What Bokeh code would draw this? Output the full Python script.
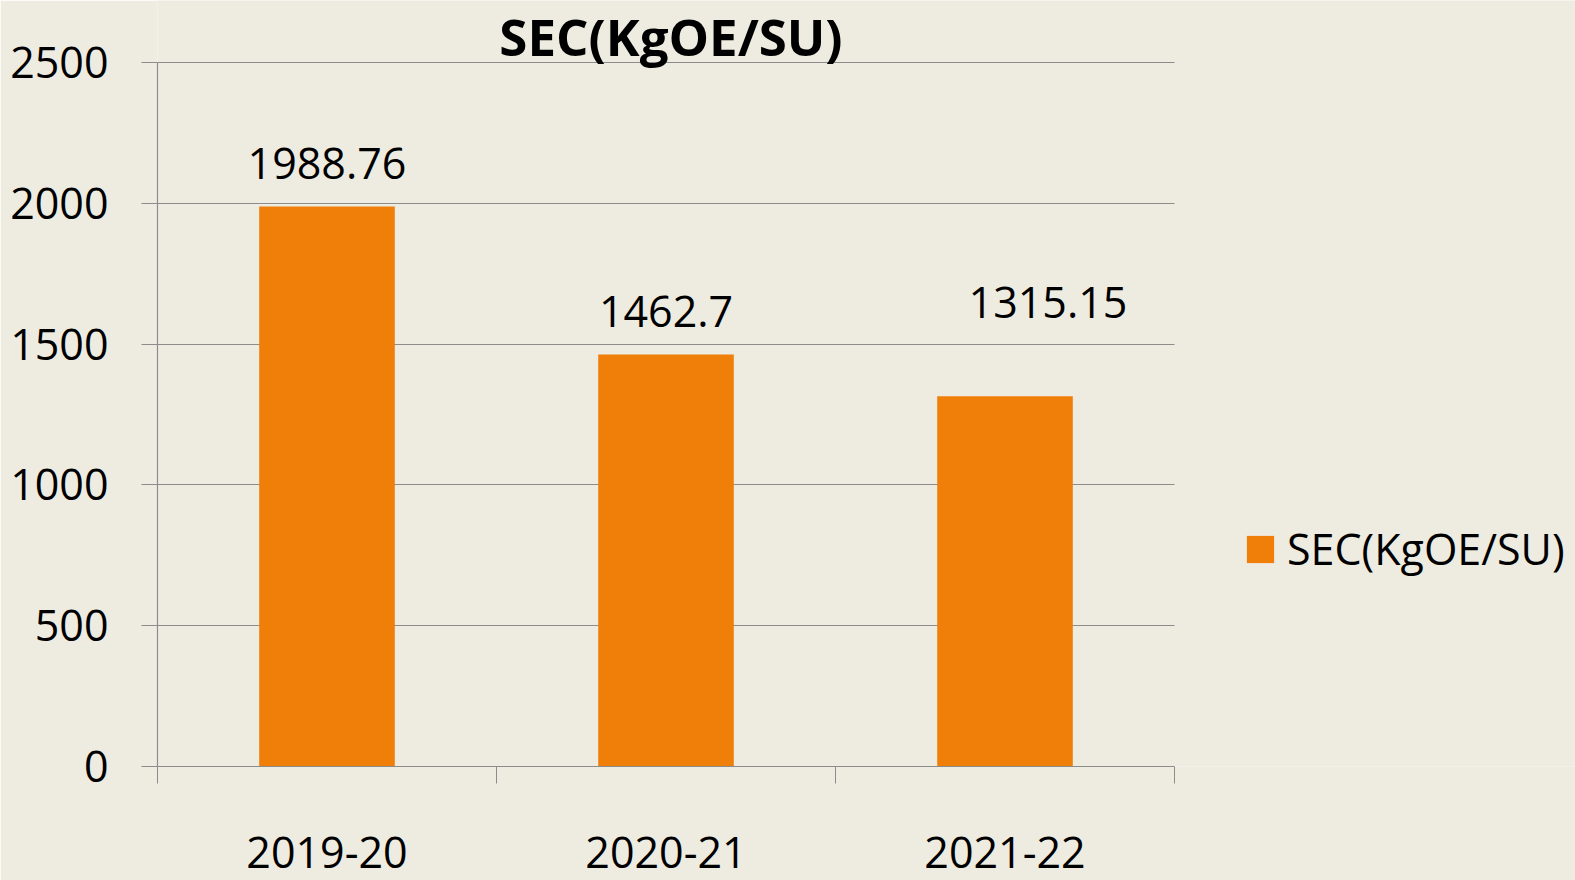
from bokeh.plotting import figure
from bokeh.models import (Range1d, FixedTicker, Legend, LegendItem, Label,
                          ColumnDataSource)
from bokeh.core.properties import value
from bokeh.embed import file_html
from bokeh.resources import INLINE

# ---- data ----
categories = ["2019-20", "2020-21", "2021-22"]
values = [1988.76, 1462.7, 1315.15]
value_labels = ["1988.76", "1462.7", "1315.15"]
y_ticks = [0, 500, 1000, 1500, 2000, 2500]
y_max = 2500
series_name = "SEC(KgOE/SU)"
chart_title = "SEC(KgOE/SU)"

# label placement (screen px), styling only
label_dx = [0, 0, 43]
label_dy = [-43, -43, -94]

BG = "#EEECE1"
BAR = "#F07F0A"
GRID = "#8C8C8C"
FONT = "Open Sans"

W, H = 1575, 880
PLOT_L, PLOT_R, PLOT_T, PLOT_B = 157, 1174, 62, 766   # plot-area pixels

n = len(categories)
xs = [i + 0.5 for i in range(n)]

# frame spans from PLOT_L to the right edge and from the top edge to PLOT_B;
# ranges are extended so that the category/value area lands on the plot area
x_end = n * (W - PLOT_L) / (PLOT_R - PLOT_L)
y_end = y_max * PLOT_B / (PLOT_B - PLOT_T)

p = figure(width=W, height=H, output_backend="svg", toolbar_location=None,
           x_range=Range1d(0, x_end), y_range=Range1d(0, y_end))
p.min_border_left = PLOT_L
p.min_border_right = 0
p.min_border_top = 0
p.min_border_bottom = H - PLOT_B
p.background_fill_color = BG
p.border_fill_color = BG
p.outline_line_color = None

src = ColumnDataSource(dict(x=xs, top=values, lab=value_labels,
                            dx=label_dx, dy=label_dy))
bars = p.vbar(x="x", top="top", width=0.4, source=src,
              fill_color=BAR, line_color=None)

p.text(x="x", y="top", text="lab", source=src, x_offset="dx", y_offset="dy",
       text_align="center", text_baseline="alphabetic",
       text_font=value(FONT), text_font_size="43px", text_color="#000000")

# x axis
xa = p.xaxis[0]
xa.bounds = (0, n)
xa.ticker = FixedTicker(ticks=xs, minor_ticks=list(range(n + 1)))
xa.major_label_overrides = {x: c for x, c in zip(xs, categories)}
xa.major_tick_out = 0
xa.major_tick_in = 0
xa.minor_tick_out = 17
xa.minor_tick_in = 0
xa.minor_tick_line_color = GRID
xa.axis_line_color = GRID
xa.axis_line_width = 1.2
xa.major_label_standoff = 53
xa.major_label_text_font = FONT
xa.major_label_text_font_size = "43px"
xa.major_label_text_color = "#000000"

# y axis
ya = p.yaxis[0]
ya.bounds = (0, y_max)
ya.ticker = FixedTicker(ticks=y_ticks, minor_ticks=[])
ya.major_tick_out = 16
ya.major_tick_in = 0
ya.major_tick_line_color = GRID
ya.axis_line_color = GRID
ya.axis_line_width = 1.2
ya.major_label_standoff = 33
ya.major_label_text_font = FONT
ya.major_label_text_font_size = "43px"
ya.major_label_text_color = "#000000"

p.xgrid.grid_line_color = None
g = p.ygrid[0]
g.ticker = ya.ticker
if "cross_bounds" in g.properties():
    g.grid_line_color = GRID
    g.grid_line_width = 1.2
    g.cross_bounds = (0, n)
else:
    g.grid_line_color = None
    p.segment(x0=[0] * len(y_ticks), x1=[n] * len(y_ticks), y0=y_ticks,
              y1=y_ticks, line_color=GRID, line_width=1.2)

# title
p.add_layout(Label(x=n / 2, y=y_max, x_offset=5, y_offset=27,
                   text=chart_title, text_align="center",
                   text_baseline="alphabetic", text_font=FONT,
                   text_font_style="bold", text_font_size="51px",
                   text_color="#000000"))

# legend
legend = Legend(items=[LegendItem(label=series_name, renderers=[bars])],
                location=(1086, 188), orientation="vertical")
legend.glyph_width = 34
legend.glyph_height = 34
legend.label_standoff = 10
legend.padding = 0
legend.margin = 0
legend.spacing = 0
legend.border_line_color = None
legend.background_fill_alpha = 0
legend.label_text_font = FONT
legend.label_text_font_size = "43px"
legend.label_text_color = "#000000"
p.add_layout(legend, "center")

open("out.html", "w").write(file_html(p, INLINE))
